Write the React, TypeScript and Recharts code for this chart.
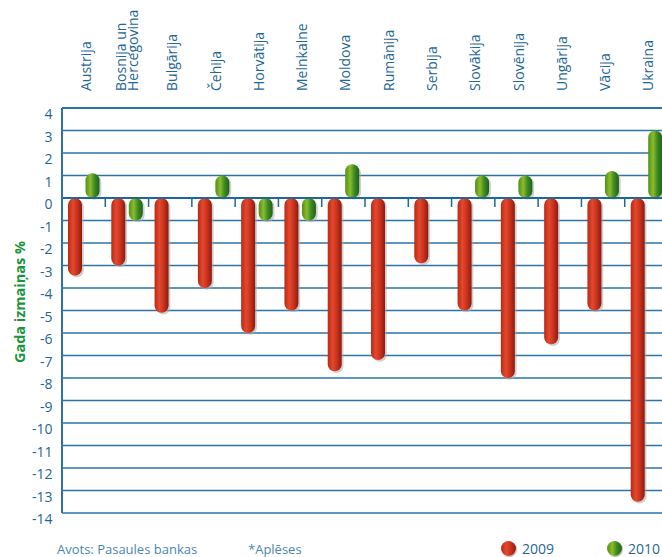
import React from 'react';
import { Bar, BarChart, CartesianGrid, ReferenceLine, XAxis, YAxis } from 'recharts';

const categories = [
  'Austrija',
  'Bosnija un\nHercegovina',
  'Bulgārija',
  'Čehija',
  'Horvātija',
  'Melnkalne',
  'Moldova',
  'Rumānija',
  'Serbija',
  'Slovākija',
  'Slovēnija',
  'Ungārija',
  'Vācija',
  'Ukraina',
];
const values2009 = [-3.45, -3.0, -5.1, -4.0, -6.0, -5.0, -7.7, -7.2, -2.9, -5.0, -8.0, -6.5, -5.0, -13.5];
const values2010 = [1.1, -1.0, null, 1.0, -1.0, -1.0, 1.5, null, null, 1.0, 1.0, null, 1.2, 3.0];
const yTicks = [4, 3, 2, 1, 0, -1, -2, -3, -4, -5, -6, -7, -8, -9, -10, -11, -12, -13, -14];
const seriesNames = ['2009', '2010'];

const data = categories.map((name, i) => ({ name, v2009: values2009[i], v2010: values2010[i] }));

const FONT = "'Open Sans', sans-serif";
const BLUE = '#1f6796';
const GRID = '#2d74a6';

const CHART_W = 668;
const CHART_H = 557;
const AXIS_W = 62;
const TOP_H = 108;
const BOTTOM = 44;
const Y_MAX = 4;
const Y_MIN = -14;
const PLOT_H = CHART_H - TOP_H - BOTTOM;
const ZERO_Y = TOP_H + (PLOT_H * Y_MAX) / (Y_MAX - Y_MIN);
const BAND = (CHART_W - AXIS_W) / categories.length;

const Capsule = (props: any) => {
  const { x, y, width, height, fill } = props;
  if (x == null || y == null || !height) return null;
  const top = height < 0 ? y + height : y;
  const h = Math.abs(height);
  const r = width / 2;
  return (
    <g>
      <rect x={x + 1.8} y={top + 1.8} width={width} height={h} rx={r} ry={r} fill="#a8a8a8" opacity={0.55} />
      <rect x={x} y={top} width={width} height={h} rx={r} ry={r} fill={fill} />
    </g>
  );
};

const TopTick = (props: any) => {
  const { x, payload, index } = props;
  const lines = String(payload.value).split('\n');
  const half = payload.offset || BAND / 2;
  const n = lines.length;
  return (
    <g>
      {lines.map((line, i) => {
        const cx = x + (i - (n - 1) / 2) * 12.7 + (n > 1 ? -0.5 : 1.5);
        return (
          <text
            key={i}
            transform={`translate(${cx}, ${TOP_H - 17}) rotate(-90)`}
            textAnchor="start"
            dominantBaseline="central"
            fill={BLUE}
            fontSize={14}
            fontFamily={FONT}
          >
            {line}
          </text>
        );
      })}
      {index > 0 && (
        <line x1={x - half} x2={x - half} y1={ZERO_Y} y2={ZERO_Y + 9} stroke={BLUE} strokeWidth={1.5} />
      )}
    </g>
  );
};

const LeftTick = (props: any) => {
  const { x, y, payload } = props;
  return (
    <text x={x - 1.5} y={y + 5.5} textAnchor="end" dominantBaseline="central" fill={BLUE} fontSize={14} fontFamily={FONT}>
      {payload.value}
    </text>
  );
};

const AxisTitle = (props: any) => {
  const vb = props.viewBox || { x: 0, y: TOP_H, height: PLOT_H };
  const cy = vb.y + vb.height / 2 - 8.5;
  return (
    <text
      transform={`translate(19.5, ${cy}) rotate(-90)`}
      textAnchor="middle"
      dominantBaseline="central"
      fill="#17963c"
      fontWeight={700}
      fontSize={14.5}
      fontFamily={FONT}
    >
      Gada izmaiņas %
    </text>
  );
};

const redBg = 'linear-gradient(to right, #b52a18 0%, #e5482c 35%, #c8331f 65%, #8e1a0e 100%)';
const greenBg = 'linear-gradient(to right, #4f8f1c 0%, #8cbc2a 35%, #3f8a22 65%, #1b621c 100%)';

const LegendItem = ({ left, bg, label }: { left: number; bg: string; label: string }) => (
  <div style={{ position: 'absolute', left, top: 540, height: 16, display: 'flex', alignItems: 'center' }}>
    <span style={{ width: 15, height: 15, borderRadius: 8, background: bg, display: 'inline-block', boxShadow: '1px 1px 1px #bbb' }} />
    <span style={{ marginLeft: 6, color: BLUE, fontSize: 14, fontFamily: FONT }}>{label}</span>
  </div>
);

const App: React.FC = () => {
  return (
    <div style={{ position: 'absolute', left: 0, top: 0, width: 662, height: 557, overflow: 'hidden', background: '#fff' }}>
      <BarChart
        width={CHART_W}
        height={CHART_H}
        data={data}
        margin={{ top: 0, right: 0, bottom: BOTTOM, left: 0 }}
        barSize={14}
        barGap={3.5}
      >
        <defs>
          <linearGradient id="red09" x1="0" y1="0" x2="1" y2="0">
            <stop offset="0%" stopColor="#b52a18" />
            <stop offset="35%" stopColor="#e5482c" />
            <stop offset="65%" stopColor="#c8331f" />
            <stop offset="100%" stopColor="#8e1a0e" />
          </linearGradient>
          <linearGradient id="green10" x1="0" y1="0" x2="1" y2="0">
            <stop offset="0%" stopColor="#4f8f1c" />
            <stop offset="35%" stopColor="#8cbc2a" />
            <stop offset="65%" stopColor="#3f8a22" />
            <stop offset="100%" stopColor="#1b621c" />
          </linearGradient>
        </defs>
        <CartesianGrid vertical={false} stroke={GRID} strokeWidth={1.3} />
        <XAxis
          dataKey="name"
          orientation="top"
          height={TOP_H}
          interval={0}
          tickLine={false}
          axisLine={{ stroke: GRID, strokeWidth: 2 }}
          tick={<TopTick />}
        />
        <YAxis
          type="number"
          width={AXIS_W}
          domain={[Y_MIN, Y_MAX]}
          ticks={yTicks}
          interval={0}
          tickLine={false}
          axisLine={{ stroke: GRID, strokeWidth: 2 }}
          tick={<LeftTick />}
          label={<AxisTitle />}
        />
        <ReferenceLine y={0} stroke={BLUE} strokeWidth={2} />
        <Bar dataKey="v2009" name={seriesNames[0]} fill="url(#red09)" shape={<Capsule />} isAnimationActive={false} />
        <Bar dataKey="v2010" name={seriesNames[1]} fill="url(#green10)" shape={<Capsule />} isAnimationActive={false} />
      </BarChart>
      <div style={{ position: 'absolute', left: 57, top: 540, color: '#4c86b0', fontSize: 13, fontFamily: FONT }}>
        Avots: Pasaules bankas
      </div>
      <div style={{ position: 'absolute', left: 248, top: 540, color: '#4c86b0', fontSize: 13, fontFamily: FONT }}>
        *Aplēses
      </div>
      <LegendItem left={501} bg={redBg} label={seriesNames[0]} />
      <LegendItem left={607} bg={greenBg} label={seriesNames[1]} />
    </div>
  );
};

export default App;
